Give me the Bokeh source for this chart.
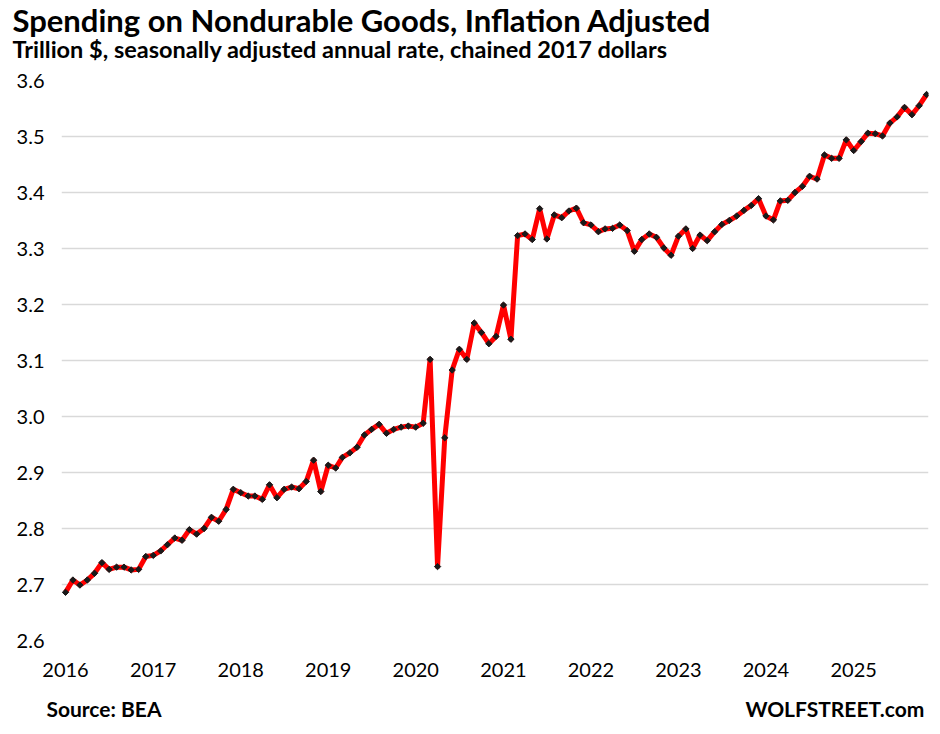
import pandas as pd
from bokeh.plotting import figure
from bokeh.models import FixedTicker, Range1d, Title, NumeralTickFormatter, LinearAxis
from bokeh.embed import file_html
from bokeh.resources import INLINE

# Trillion $, chained 2017 dollars, SAAR, monthly Jan 2016 - Nov 2025
values_2016 = [2.686, 2.708, 2.699, 2.708, 2.720, 2.739, 2.727, 2.731, 2.731, 2.726, 2.727, 2.750]
values_2017 = [2.752, 2.760, 2.771, 2.783, 2.779, 2.798, 2.790, 2.800, 2.820, 2.813, 2.834, 2.870]
values_2018 = [2.864, 2.858, 2.858, 2.852, 2.878, 2.855, 2.870, 2.874, 2.871, 2.884, 2.922, 2.866]
values_2019 = [2.913, 2.908, 2.927, 2.935, 2.945, 2.967, 2.977, 2.986, 2.970, 2.977, 2.981, 2.983]
values_2020 = [2.981, 2.988, 3.102, 2.732, 2.962, 3.083, 3.120, 3.102, 3.167, 3.150, 3.130, 3.143]
values_2021 = [3.199, 3.138, 3.323, 3.326, 3.316, 3.371, 3.317, 3.360, 3.355, 3.367, 3.372, 3.346]
values_2022 = [3.342, 3.330, 3.335, 3.336, 3.342, 3.332, 3.295, 3.316, 3.326, 3.320, 3.301, 3.288]
values_2023 = [3.322, 3.335, 3.300, 3.324, 3.314, 3.330, 3.343, 3.350, 3.358, 3.368, 3.377, 3.389]
values_2024 = [3.358, 3.351, 3.385, 3.386, 3.400, 3.411, 3.429, 3.424, 3.467, 3.461, 3.461, 3.494]
values_2025 = [3.475, 3.491, 3.506, 3.505, 3.501, 3.524, 3.535, 3.552, 3.539, 3.555, 3.575]

values = (values_2016 + values_2017 + values_2018 + values_2019 + values_2020 +
          values_2021 + values_2022 + values_2023 + values_2024 + values_2025)
dates = pd.date_range("2016-01-01", periods=len(values), freq="MS")

year_labels = ["2016", "2017", "2018", "2019", "2020", "2021", "2022", "2023", "2024", "2025"]
y_ticks = [2.6, 2.7, 2.8, 2.9, 3.0, 3.1, 3.2, 3.3, 3.4, 3.5, 3.6]

title_text = "Spending on Nondurable Goods, Inflation Adjusted"
subtitle_text = "Trillion $, seasonally adjusted annual rate, chained 2017 dollars"
footer_labels = ["Source: BEA", "WOLFSTREET.com"]
footer_pos = [0.049, 0.892]   # horizontal placement of footer texts (fraction of width)

FONT = "Lato"

p = figure(width=936, height=730, x_axis_type="datetime",
           output_backend="svg", toolbar_location=None,
           min_border_left=61, min_border_right=8, min_border_top=80, min_border_bottom=90)
p.outline_line_color = None
p.background_fill_color = "white"
p.border_fill_color = "white"

day = pd.Timedelta(days=1)
p.x_range = Range1d(dates[0] - 16.7 * day, dates[-1] + 8 * day)
p.y_range = Range1d(2.6, 3.6)
p.extra_x_ranges = {"foot": Range1d(0, 1)}

p.line(dates, values, line_color="#ff0000", line_width=5, line_join="round")
p.scatter(dates, values, marker="square", angle=0.785, size=4.5,
          fill_color="#1a1a1a", line_color="#1a1a1a")

# axes
tick_ms = [pd.Timestamp(y + "-01-01").value / 1e6 for y in year_labels]
p.xaxis.ticker = FixedTicker(ticks=tick_ms)
p.xaxis.major_label_overrides = {t: lab for t, lab in zip(tick_ms, year_labels)}
p.yaxis.ticker = FixedTicker(ticks=y_ticks)
p.yaxis.formatter = NumeralTickFormatter(format="0.0")
for ax in (p.xaxis, p.yaxis):
    ax.axis_line_color = None
    ax.major_tick_line_color = None
    ax.minor_tick_line_color = None
    ax.major_label_text_font = FONT
    ax.major_label_text_font_size = "20px"
    ax.major_label_text_color = "#000000"
p.xaxis.major_label_standoff = 16
p.yaxis.major_label_standoff = 11

# footer line (source + brand) as an extra axis below the year labels
foot = LinearAxis(x_range_name="foot",
                  ticker=FixedTicker(ticks=footer_pos),
                  major_label_overrides={pos: lab for pos, lab in zip(footer_pos, footer_labels)},
                  axis_line_color=None, major_tick_line_color=None, minor_tick_line_color=None,
                  major_tick_out=0, minor_tick_out=0, major_label_standoff=16,
                  major_label_text_font=FONT, major_label_text_font_style="bold",
                  major_label_text_font_size="21px", major_label_text_color="#000000")
p.add_layout(foot, "below")

p.xgrid.grid_line_color = None
p.ygrid.grid_line_color = "#d9d9d9"
p.ygrid.grid_line_width = 1.5

# titles (subtitle first: nearest the frame)
p.add_layout(Title(text=subtitle_text, align="left", offset=-49, standoff=36,
                   text_font=FONT, text_font_style="bold", text_font_size="23.5px",
                   text_color="#000000"), "above")
p.add_layout(Title(text=title_text, align="left", offset=-49, standoff=-48,
                   text_font=FONT, text_font_style="bold", text_font_size="31px",
                   text_color="#000000"), "above")

open("out.html", "w").write(file_html(p, INLINE))
